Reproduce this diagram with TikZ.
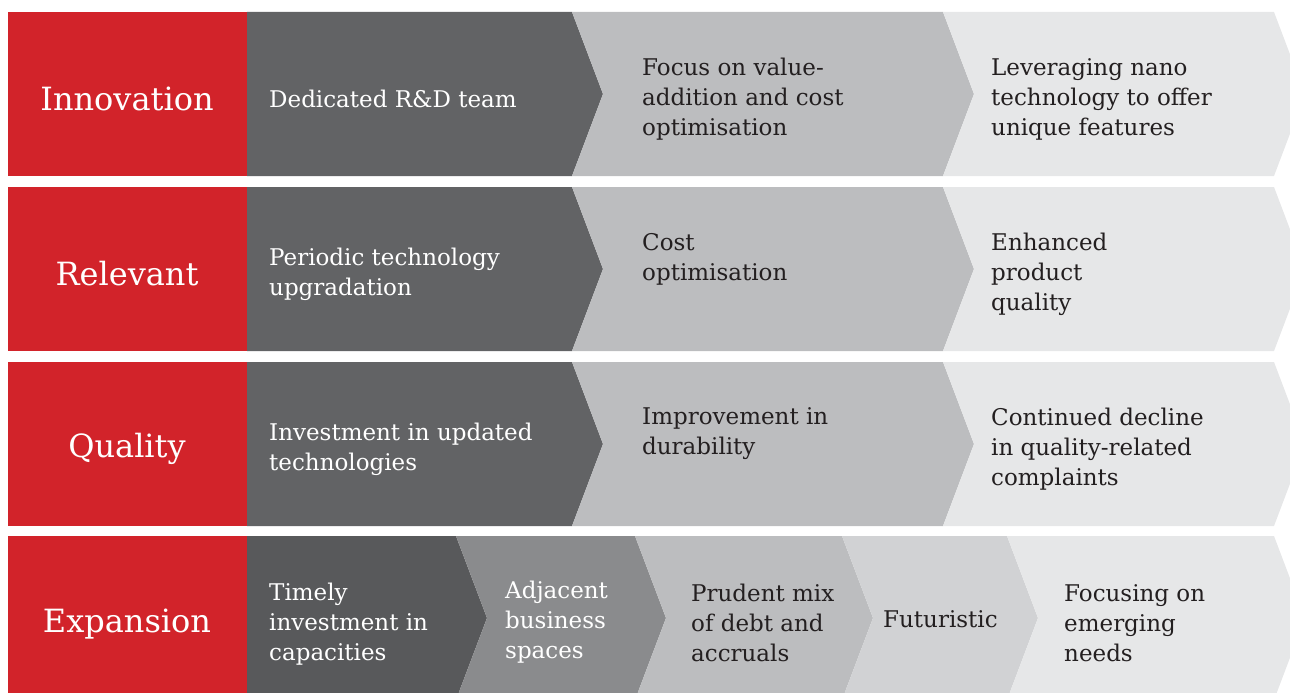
\documentclass[tikz,border=0pt]{standalone}
\usepackage{fontspec}
\setmainfont{DejaVu Serif}
\definecolor{brandred}{HTML}{D2232A}
\definecolor{darkgrey}{HTML}{626365}
\definecolor{darkgreyb}{HTML}{58595B}
\definecolor{midgrey}{HTML}{8A8B8D}
\definecolor{lightgrey}{HTML}{BCBDBF}
\definecolor{palegrey}{HTML}{D1D2D4}
\definecolor{palestgrey}{HTML}{E6E7E8}
\definecolor{inkblack}{HTML}{231F20}

\begin{document}
\begin{tikzpicture}[x=1pt,y=-1pt,
  head/.style={text=white,inner sep=0pt,font=\fontsize{32}{38}\selectfont},
  txt/.style={anchor=west,align=left,inner sep=0pt,text=inkblack,font=\fontsize{23}{30}\selectfont},
  wtxt/.style={txt,text=white}]
\useasboundingbox (0,0) rectangle (1290,693);
\clip (0,0) rectangle (1290,693);

% first three rows: label box and three steps
\foreach \t in {12,187,362}{
  \fill[brandred] (8,\t) rectangle (247,\t+164);
  \fill[darkgrey] (247,\t) -- (572,\t) -- (603,\t+82) -- (572,\t+164) -- (247,\t+164) -- cycle;
  \fill[lightgrey] (572,\t) -- (943,\t) -- (974,\t+82) -- (943,\t+164) -- (572,\t+164) -- (603,\t+82) -- cycle;
  \fill[palestgrey] (943,\t) -- (1274,\t) -- (1305,\t+82) -- (1274,\t+164) -- (943,\t+164) -- (974,\t+82) -- cycle;
}

% last row: label box and five steps
\fill[brandred] (8,536) rectangle (247,700);
\fill[darkgreyb] (247,536) -- (456,536) -- (487,618) -- (456,700) -- (247,700) -- cycle;
\fill[midgrey] (456,536) -- (635,536) -- (666,618) -- (635,700) -- (456,700) -- (487,618) -- cycle;
\fill[lightgrey] (635,536) -- (842,536) -- (873,618) -- (842,700) -- (635,700) -- (666,618) -- cycle;
\fill[palegrey] (842,536) -- (1007,536) -- (1038,618) -- (1007,700) -- (842,700) -- (873,618) -- cycle;
\fill[palestgrey] (1007,536) -- (1274,536) -- (1305,618) -- (1274,700) -- (1007,700) -- (1038,618) -- cycle;

% Innovation
\node[head] (inno) at (127,99) {Innovation};
\node[wtxt] (inno-a) at (269,99) {Dedicated R\&D team};
\node[txt] (inno-b) at (642,99) {Focus on value-\\addition and cost\\optimisation};
\node[txt] (inno-c) at (991,99) {Leveraging nano\\technology to offer\\unique features};

% Relevant
\node[head] (rele) at (127,274) {Relevant};
\node[wtxt] (rele-a) at (269,274) {Periodic technology\\upgradation};
\node[txt] (rele-b) at (642,259) {Cost\\optimisation};
\node[txt] (rele-c) at (991,274) {Enhanced\\product\\quality};

% Quality
\node[head] (qual) at (127,449) {Quality};
\node[wtxt] (qual-a) at (269,449) {Investment in updated\\technologies};
\node[txt] (qual-b) at (642,434) {Improvement in\\durability};
\node[txt] (qual-c) at (991,449) {Continued decline\\in quality-related\\complaints};

% Expansion
\node[head] (expa) at (127,624) {Expansion};
\node[wtxt] (expa-a) at (269,624) {Timely\\investment in\\capacities};
\node[wtxt] (expa-b) at (505,622) {Adjacent\\business\\spaces};
\node[txt] (expa-c) at (691,623) {Prudent mix\\of debt and\\accruals};
\node[txt] (expa-d) at (883,619) {Futuristic};
\node[txt] (expa-e) at (1064,623) {Focusing on\\emerging\\needs};
\end{tikzpicture}
\end{document}
